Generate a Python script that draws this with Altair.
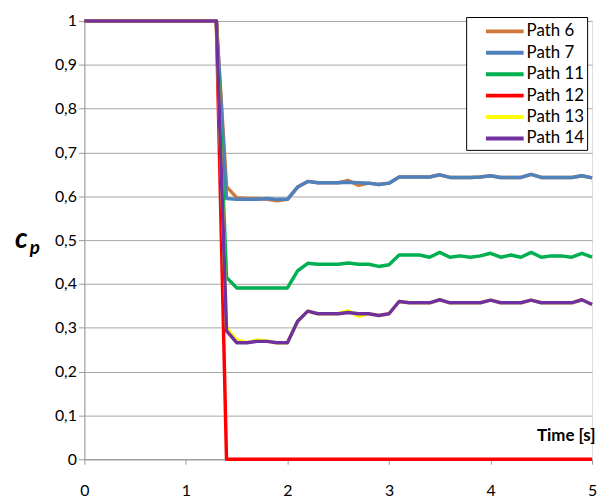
import altair as alt
import pandas as pd

TIME = [0.0, 0.1, 0.2, 0.3, 0.4, 0.5, 0.6, 0.7, 0.8, 0.9,
        1.0, 1.1, 1.2, 1.3, 1.4, 1.5, 1.6, 1.7, 1.8, 1.9,
        2.0, 2.1, 2.2, 2.3, 2.4, 2.5, 2.6, 2.7, 2.8, 2.9,
        3.0, 3.1, 3.2, 3.3, 3.4, 3.5, 3.6, 3.7, 3.8, 3.9,
        4.0, 4.1, 4.2, 4.3, 4.4, 4.5, 4.6, 4.7, 4.8, 4.9, 5.0]

ONES = [1.0] * 14  # t = 0.0 .. 1.3

PATH_6 = ONES + [0.622, 0.597, 0.595, 0.595, 0.593, 0.590, 0.593,
                 0.621, 0.634, 0.631, 0.631, 0.631, 0.636, 0.625, 0.630, 0.627, 0.630,
                 0.644, 0.644, 0.644, 0.644, 0.649, 0.643, 0.643, 0.643, 0.644, 0.647,
                 0.643, 0.643, 0.643, 0.650, 0.643, 0.643, 0.643, 0.643, 0.647, 0.642]
PATH_7 = ONES + [0.595, 0.593, 0.593, 0.593, 0.595, 0.593, 0.593,
                 0.621, 0.634, 0.631, 0.631, 0.631, 0.632, 0.631, 0.630, 0.627, 0.630,
                 0.644, 0.644, 0.644, 0.644, 0.649, 0.643, 0.643, 0.643, 0.644, 0.647,
                 0.643, 0.643, 0.643, 0.650, 0.643, 0.643, 0.643, 0.643, 0.647, 0.642]
PATH_11 = ONES + [0.415, 0.391, 0.391, 0.391, 0.391, 0.391, 0.391,
                  0.430, 0.447, 0.445, 0.445, 0.445, 0.448, 0.445, 0.445, 0.440, 0.444,
                  0.466, 0.466, 0.466, 0.461, 0.472, 0.461, 0.464, 0.461, 0.464, 0.470,
                  0.461, 0.466, 0.461, 0.472, 0.461, 0.464, 0.464, 0.461, 0.470, 0.461]
PATH_12 = ONES + [0.0] * 37
PATH_13 = ONES + [0.300, 0.272, 0.266, 0.272, 0.270, 0.265, 0.266,
                  0.315, 0.338, 0.332, 0.332, 0.332, 0.339, 0.326, 0.332, 0.328, 0.332,
                  0.360, 0.357, 0.357, 0.357, 0.364, 0.357, 0.357, 0.357, 0.357, 0.363,
                  0.357, 0.357, 0.357, 0.363, 0.357, 0.357, 0.357, 0.357, 0.364, 0.353]
PATH_14 = ONES + [0.293, 0.266, 0.266, 0.269, 0.269, 0.266, 0.266,
                  0.315, 0.338, 0.332, 0.332, 0.332, 0.335, 0.332, 0.332, 0.328, 0.332,
                  0.360, 0.357, 0.357, 0.357, 0.364, 0.357, 0.357, 0.357, 0.357, 0.363,
                  0.357, 0.357, 0.357, 0.363, 0.357, 0.357, 0.357, 0.357, 0.364, 0.353]

SERIES = ["Path 6", "Path 7", "Path 11", "Path 12", "Path 13", "Path 14"]
VALUES = [PATH_6, PATH_7, PATH_11, PATH_12, PATH_13, PATH_14]
COLORS = ["#D2783A", "#4F81BD", "#00B050", "#FF0000", "#FFFF00", "#7030A0"]

rows = []
for name, vals in zip(SERIES, VALUES):
    for t, v in zip(TIME, vals):
        rows.append({"series": name, "time": t, "cp": v})
df = pd.DataFrame(rows)

FONT = "Lato"
PAD = "\u00a0" * 12

x_enc = alt.X("time:Q",
              scale=alt.Scale(domain=[0, 5], nice=False),
              axis=alt.Axis(values=[0, 1, 2, 3, 4, 5], grid=False,
                            title="Time [s]", titleFont=FONT, titleFontSize=17,
                            titleFontWeight="bold", titleColor="#000000",
                            titleAnchor="end", titleAlign="right",
                            titleBaseline="bottom", titleX=515, titleY=-15,
                            labelFont=FONT, labelFontSize=16, labelColor="#000000",
                            labelPadding=19, tickSize=5, tickColor="#9a9a9a",
                            domainColor="#9a9a9a", labelFlush=False))
y_enc = alt.Y("cp:Q",
              scale=alt.Scale(domain=[0, 1], nice=False),
              axis=alt.Axis(values=[0, 0.1, 0.2, 0.3, 0.4, 0.5, 0.6, 0.7, 0.8, 0.9, 1.0],
                            title=None, grid=True, gridColor="#a6a6a6",
                            labelExpr="replace(format(datum.value, '~g'), '.', ',')",
                            labelFont=FONT, labelFontSize=16, labelColor="#000000",
                            labelPadding=2, tickSize=6, tickColor="#9a9a9a",
                            domainColor="#9a9a9a", labelFlush=False))
color_enc = alt.Color("series:N",
                      scale=alt.Scale(domain=SERIES, range=COLORS),
                      sort=SERIES,
                      legend=alt.Legend(title=None, orient="none",
                                        legendX=385, legendY=-4,
                                        fillColor="#ffffff", strokeColor="#000000",
                                        padding=3, rowPadding=1.6,
                                        symbolType="M-1.2,0L-1.2,0M0.58,0H4.58",
                                        symbolSize=361,
                                        symbolStrokeWidth=4, labelOffset=35,
                                        labelExpr="datum.label + '" + PAD + "'",
                                        labelFont=FONT, labelFontSize=17,
                                        labelColor="#000000"))

layers = []
for name in SERIES:
    layers.append(
        alt.Chart(df).transform_filter(alt.datum.series == name)
        .mark_line(strokeWidth=3.5, strokeJoin="round")
        .encode(x=x_enc, y=y_enc, color=color_enc)
    )

title_df = pd.DataFrame({"t": ["c", "p"]})
c_text = alt.Chart(title_df).transform_filter(alt.datum.t == "c").mark_text(
    font=FONT, fontSize=28, fontWeight="bold", fontStyle="italic",
    align="left", baseline="alphabetic", color="#000000"
).encode(text="t:N", x=alt.value(-70), y=alt.value(229))
p_text = alt.Chart(title_df).transform_filter(alt.datum.t == "p").mark_text(
    font=FONT, fontSize=19, fontWeight="bold", fontStyle="italic",
    align="left", baseline="alphabetic", color="#000000"
).encode(text="t:N", x=alt.value(-55), y=alt.value(235))

chart = alt.layer(*layers, c_text, p_text).properties(
    width=512, height=442,
    autosize=alt.AutoSizeParams(type="none"),
    padding={"left": 77, "top": 11, "right": 8, "bottom": 40},
).configure_view(stroke=None).configure(background="#ffffff")

chart.save("out.html", embed_options={"renderer": "svg", "actions": False})
